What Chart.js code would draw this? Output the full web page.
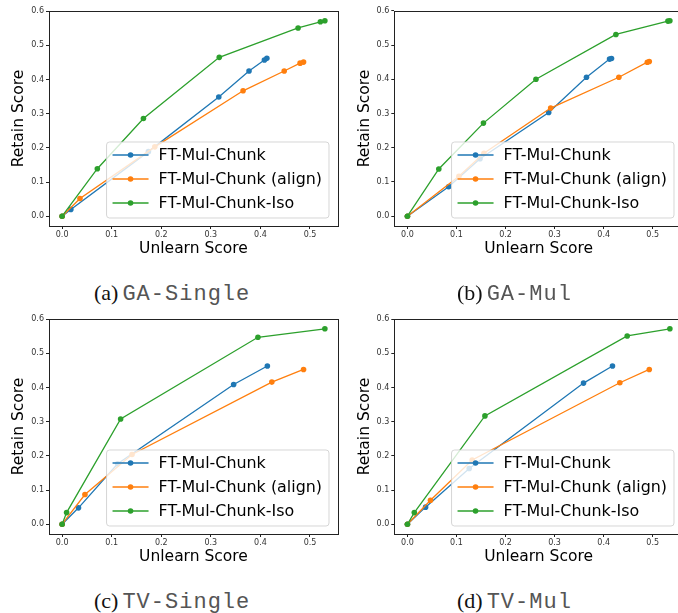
<!DOCTYPE html>
<html>
<head>
<meta charset="utf-8">
<script src="https://cdn.jsdelivr.net/npm/chart.js@4.4.1/dist/chart.umd.min.js"></script>
<style>
html, body { margin: 0; padding: 0; background: #fff; overflow: hidden; width: 678px; height: 613px; }
canvas { position: absolute; }
.cap { position: absolute; white-space: nowrap; color: #111; line-height: 24px; }
.cap .lbl { font-family: "Liberation Serif", serif; font-size: 22px; }
.cap .nm { font-family: "Liberation Mono", monospace; font-size: 22px; color: #555; letter-spacing: 1px; }
</style>
</head>
<body>
<canvas id="cA" width="342" height="262" style="left:0px;top:0px"></canvas>
<canvas id="cB" width="347" height="262" style="left:340px;top:0px"></canvas>
<canvas id="cC" width="342" height="262" style="left:0px;top:308px"></canvas>
<canvas id="cD" width="347" height="262" style="left:340px;top:308px"></canvas>
<div class="cap" style="left:94px;top:281px"><span class="lbl">(a)</span> <span class="nm">GA-Single</span></div>
<div class="cap" style="left:457px;top:281px"><span class="lbl">(b)</span> <span class="nm">GA-Mul</span></div>
<div class="cap" style="left:94px;top:589px"><span class="lbl">(c)</span> <span class="nm">TV-Single</span></div>
<div class="cap" style="left:457px;top:589px"><span class="lbl">(d)</span> <span class="nm">TV-Mul</span></div>
<script>
var SERIES_NAMES = ['FT-Mul-Chunk', 'FT-Mul-Chunk (align)', 'FT-Mul-Chunk-Iso'];
var COLORS = ['#1f77b4', '#ff7f0e', '#2ca02c'];
var X_TICKS = [0, 0.1, 0.2, 0.3, 0.4, 0.5];
var Y_TICKS = [0, 0.1, 0.2, 0.3, 0.4, 0.5, 0.6];

// (a) GA-Single  [unlearn, retain]
var gaSingleChunk = [[0,0],[0.0175,0.020],[0.174,0.189],[0.316,0.349],[0.377,0.425],[0.408,0.457],[0.413,0.462]];
var gaSingleAlign = [[0,0],[0.036,0.052],[0.187,0.203],[0.365,0.367],[0.448,0.425],[0.480,0.448],[0.487,0.451]];
var gaSingleIso   = [[0,0],[0.071,0.139],[0.164,0.286],[0.317,0.465],[0.476,0.551],[0.521,0.569],[0.530,0.572]];

// (b) GA-Mul
var gaMulChunk = [[0,0],[0.084,0.086],[0.148,0.168],[0.288,0.303],[0.365,0.406],[0.412,0.459],[0.416,0.461]];
var gaMulAlign = [[0,0],[0.105,0.117],[0.156,0.184],[0.292,0.316],[0.431,0.406],[0.489,0.450],[0.493,0.452]];
var gaMulIso   = [[0,0],[0.064,0.138],[0.155,0.272],[0.262,0.400],[0.425,0.531],[0.531,0.570],[0.535,0.571]];

// (c) TV-Single
var tvSingleChunk = [[0,0],[0.033,0.048],[0.112,0.177],[0.346,0.409],[0.414,0.463]];
var tvSingleAlign = [[0,0],[0.046,0.087],[0.141,0.204],[0.423,0.416],[0.487,0.453]];
var tvSingleIso   = [[0,0],[0.009,0.034],[0.118,0.308],[0.395,0.547],[0.530,0.572]];

// (d) TV-Mul
var tvMulChunk = [[0,0],[0.037,0.050],[0.126,0.163],[0.359,0.413],[0.418,0.463]];
var tvMulAlign = [[0,0],[0.047,0.070],[0.132,0.188],[0.433,0.414],[0.493,0.453]];
var tvMulIso   = [[0,0],[0.014,0.034],[0.158,0.317],[0.448,0.551],[0.535,0.572]];

// frame (all four spines) + legend box in lower right of the axes
var framePlugin = {
    id: 'frameAndLegend',
    afterDatasetsDraw: function(chart) {
        var ctx = chart.ctx, a = chart.chartArea;
        ctx.save();
        ctx.strokeStyle = '#222';
        ctx.lineWidth = 1;
        ctx.strokeRect(Math.round(a.left) + 0.5, Math.round(a.top) + 0.5,
                       Math.round(a.right - a.left), Math.round(a.bottom - a.top));

        ctx.font = '15.9px "DejaVu Sans"';
        var tw = 0;
        for (var i = 0; i < SERIES_NAMES.length; i++) {
            tw = Math.max(tw, ctx.measureText(SERIES_NAMES[i]).width);
        }
        var w = 6 + 36 + 10 + tw + 7, h = 76;
        var x = a.right - 9 - w, y = a.bottom - 8 - h;
        ctx.beginPath();
        ctx.roundRect(x, y, w, h, 3);
        ctx.fillStyle = 'rgba(255,255,255,0.8)';
        ctx.fill();
        ctx.strokeStyle = 'rgba(204,204,204,0.8)';
        ctx.stroke();
        for (var j = 0; j < SERIES_NAMES.length; j++) {
            var cy = y + 13 + j * 24;
            ctx.strokeStyle = COLORS[j];
            ctx.lineWidth = 1.4;
            ctx.beginPath();
            ctx.moveTo(x + 6, cy);
            ctx.lineTo(x + 42, cy);
            ctx.stroke();
            ctx.fillStyle = COLORS[j];
            ctx.beginPath();
            ctx.arc(x + 24, cy, 2.8, 0, Math.PI * 2);
            ctx.fill();
            ctx.fillStyle = '#000';
            ctx.textBaseline = 'middle';
            ctx.fillText(SERIES_NAMES[j], x + 52, cy + 1);
        }
        ctx.restore();
    }
};

function toPts(arr) {
    return arr.map(function(p) { return {x: p[0], y: p[1]}; });
}

function makeChart(id, series, yAxisWidth, yTitlePad) {
    var xmax = 0;
    series.forEach(function(s) { s.forEach(function(p) { xmax = Math.max(xmax, p[0]); }); });
    var ymax = 0;
    series.forEach(function(s) { s.forEach(function(p) { ymax = Math.max(ymax, p[1]); }); });

    var datasets = series.map(function(s, i) {
        return {
            label: SERIES_NAMES[i],
            data: toPts(s),
            showLine: true,
            borderColor: COLORS[i],
            backgroundColor: COLORS[i],
            borderWidth: 1.3,
            pointRadius: 2.8,
            pointBorderWidth: 0,
            pointBackgroundColor: COLORS[i],
            order: 3 - i
        };
    });

    var tickFont = {family: 'DejaVu Sans', size: 8};
    var titleFont = {family: 'DejaVu Sans', size: 15.5};

    return new Chart(document.getElementById(id), {
        type: 'scatter',
        data: {datasets: datasets},
        plugins: [framePlugin],
        options: {
            responsive: false,
            animation: false,
            layout: {padding: {top: 11, right: 3, left: 0, bottom: 0}},
            plugins: {legend: {display: false}, tooltip: {enabled: false}},
            scales: {
                x: {
                    type: 'linear',
                    min: -0.05 * xmax,
                    max: 1.05 * xmax,
                    afterBuildTicks: function(ax) { ax.ticks = X_TICKS.map(function(v) { return {value: v}; }); },
                    afterFit: function(ax) { ax.height = 36; },
                    grid: {display: true, drawOnChartArea: false, drawTicks: true, tickLength: 3, color: '#222'},
                    border: {display: false},
                    ticks: {font: tickFont, color: '#333', padding: 1, maxRotation: 0,
                            callback: function(v) { return v.toFixed(1); }},
                    title: {display: true, text: 'Unlearn Score', font: titleFont, color: '#000',
                            padding: {top: 0, bottom: 3.7}}
                },
                y: {
                    type: 'linear',
                    min: -0.05 * ymax,
                    max: 1.05 * ymax,
                    afterBuildTicks: function(ax) { ax.ticks = Y_TICKS.map(function(v) { return {value: v}; }); },
                    afterFit: function(ax) { ax.width = yAxisWidth; },
                    grid: {display: true, drawOnChartArea: false, drawTicks: true, tickLength: 3, color: '#222'},
                    border: {display: false},
                    ticks: {font: tickFont, color: '#333', padding: 2,
                            callback: function(v) { return v.toFixed(1); }},
                    title: {display: true, text: 'Retain Score', font: titleFont, color: '#000',
                            padding: {top: yTitlePad, bottom: 0}}
                }
            }
        }
    });
}

makeChart('cA', [gaSingleChunk, gaSingleAlign, gaSingleIso], 49, 9.7);
makeChart('cB', [gaMulChunk, gaMulAlign, gaMulIso], 54.3, 16);
makeChart('cC', [tvSingleChunk, tvSingleAlign, tvSingleIso], 49, 9.7);
makeChart('cD', [tvMulChunk, tvMulAlign, tvMulIso], 54.3, 16);
</script>
</body>
</html>
